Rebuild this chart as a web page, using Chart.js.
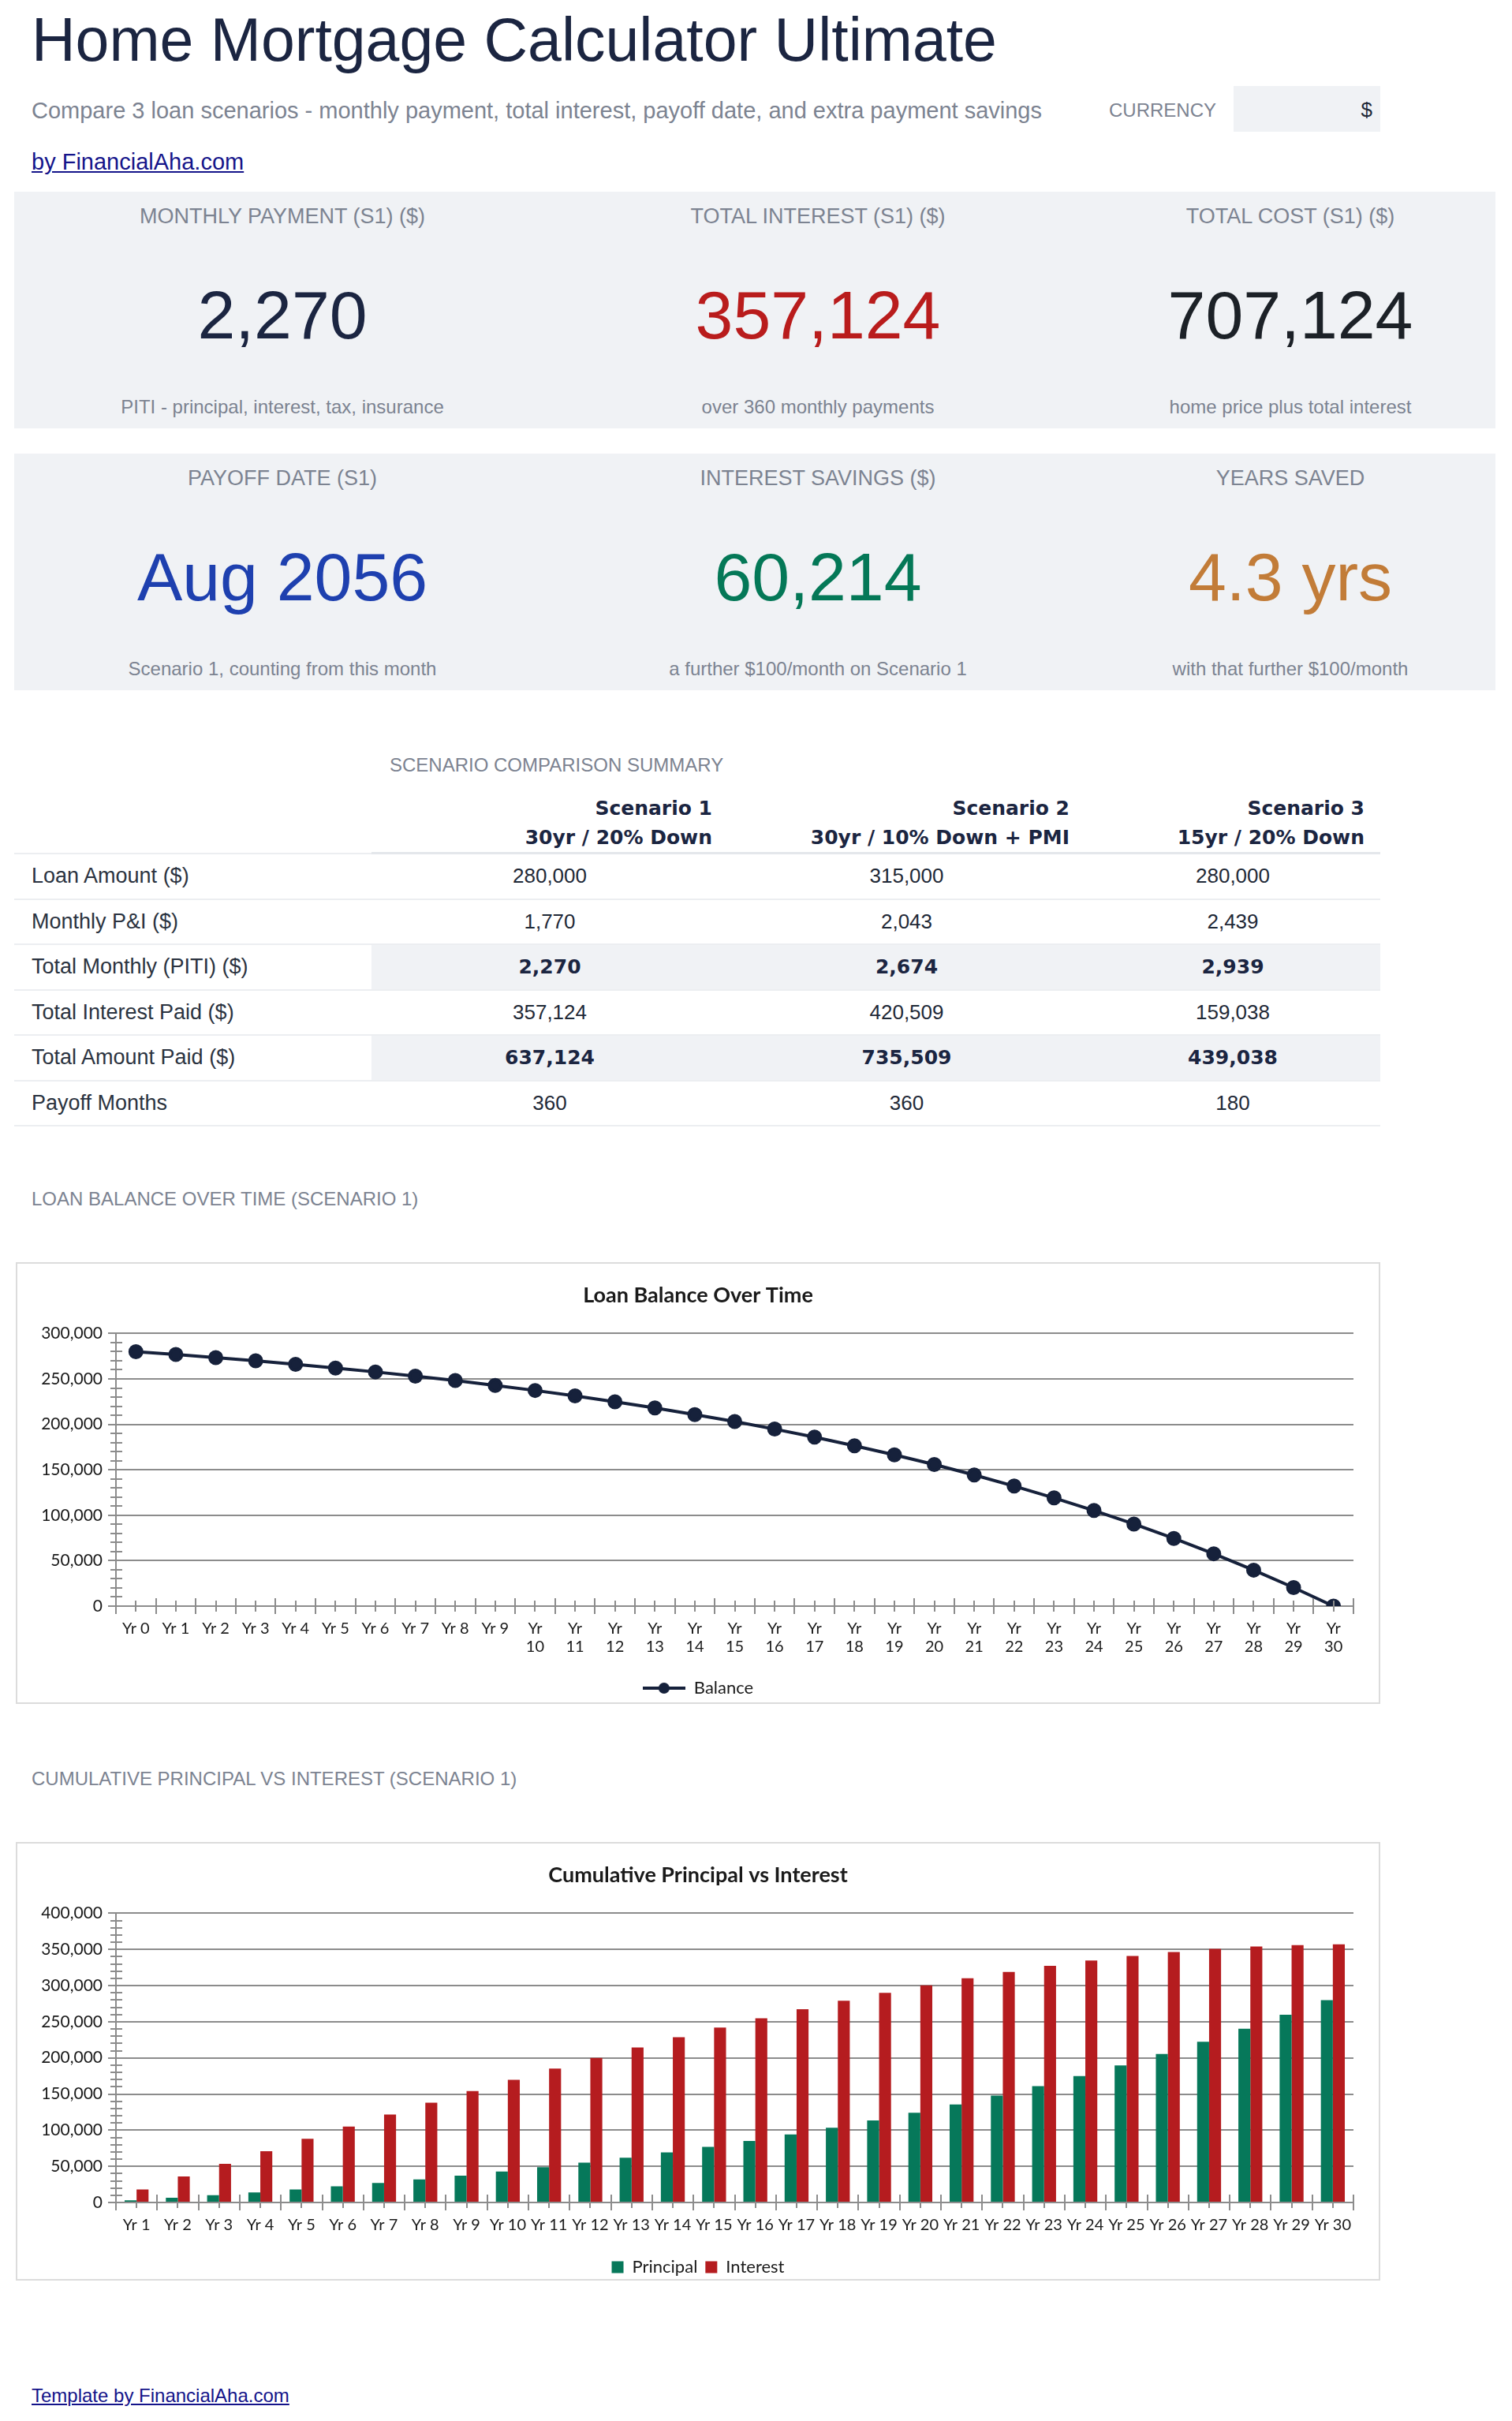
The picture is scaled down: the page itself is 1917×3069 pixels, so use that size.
<!DOCTYPE html>
<html>
<head>
<meta charset="utf-8">
<title>Home Mortgage Calculator Ultimate</title>
<script src="https://cdn.jsdelivr.net/npm/chart.js@4.4.1/dist/chart.umd.min.js"></script>
<style>
	body { margin: 0; width: 1917px; height: 3069px; position: relative; background: #fff; font-family: "Liberation Sans", Arial, sans-serif; }
	.abs { position: absolute; line-height: 1; white-space: nowrap; }
	.title { left: 40px; top: 12px; font-size: 77px; color: #1b2541; }
	.subtitle { left: 40px; top: 126px; font-size: 29px; color: #7c8391; }
	.cur-label { left: 1406px; top: 128px; font-size: 24px; color: #7c8391; }
	.cur-box { position: absolute; left: 1564px; top: 109px; width: 186px; height: 58px; background: #f0f2f5; }
	.cur-box span { position: absolute; right: 10px; top: 17px; font-size: 26px; line-height: 1; color: #1f2937; }
	a { color: #14148a; }
	.link { left: 40px; top: 191px; font-size: 29px; }
	.card { position: absolute; left: 18px; width: 1878px; height: 300px; background: #f0f2f5; display: grid; grid-template-columns: 680px 678px 1fr; }
	.cell { position: relative; }
	.cell div { position: absolute; left: 0; right: 0; text-align: center; line-height: 1; white-space: nowrap; }
	.cell .lab { top: 18px; font-size: 27px; color: #7c8391; }
	.cell .num { top: 113px; font-size: 86px; }
	.cell .sub { top: 261px; font-size: 24px; color: #7c8391; }
	.section { font-size: 24px; color: #7c8391; }
	table { position: absolute; left: 18px; top: 1006px; border-collapse: collapse; table-layout: fixed; width: 1732px; }
	th { font-family: "DejaVu Sans", sans-serif; font-weight: bold; font-size: 25px; line-height: 37px; color: #1b2541; text-align: right; padding: 0 20px 0 0; vertical-align: bottom; border-bottom: 3px solid #e4e7eb; }
	th.blank { border-bottom: 2px solid #eceef1; }
	td { height: 55.5px; font-size: 26px; color: #1f2937; text-align: center; padding: 0; border-bottom: 2px solid #eceef1; }
	td.rl { text-align: left; padding-left: 22px; font-size: 27px; color: #2b3340; }
	tr.hl td { background: #f0f2f5; font-family: "DejaVu Sans", sans-serif; font-weight: bold; font-size: 25px; color: #1b2541; }
	tr.hl td.rl { background: #fff; font-family: "Liberation Sans", Arial, sans-serif; font-weight: normal; font-size: 27px; color: #2b3340; }
	.chart-box { position: absolute; left: 20px; width: 1726px; border: 2px solid #dcdcdc; background: #fff; }
	.chart-box canvas { position: absolute; left: 0; top: 0; }
</style>
</head>
<body>

<div class="abs title">Home Mortgage Calculator Ultimate</div>
<div class="abs subtitle">Compare 3 loan scenarios - monthly payment, total interest, payoff date, and extra payment savings</div>
<div class="abs cur-label">CURRENCY</div>
<div class="cur-box"><span>$</span></div>
<div class="abs link"><a href="#">by FinancialAha.com</a></div>

<div class="card" style="top: 243px;">
	<div class="cell"><div class="lab">MONTHLY PAYMENT (S1) ($)</div><div class="num" style="color:#1b2541">2,270</div><div class="sub">PITI - principal, interest, tax, insurance</div></div>
	<div class="cell"><div class="lab">TOTAL INTEREST (S1) ($)</div><div class="num" style="color:#b91c1c">357,124</div><div class="sub">over 360 monthly payments</div></div>
	<div class="cell"><div class="lab">TOTAL COST (S1) ($)</div><div class="num" style="color:#1c2127">707,124</div><div class="sub">home price plus total interest</div></div>
</div>

<div class="card" style="top: 575px;">
	<div class="cell"><div class="lab">PAYOFF DATE (S1)</div><div class="num" style="color:#1e40af">Aug 2056</div><div class="sub">Scenario 1, counting from this month</div></div>
	<div class="cell"><div class="lab">INTEREST SAVINGS ($)</div><div class="num" style="color:#047857">60,214</div><div class="sub">a further $100/month on Scenario 1</div></div>
	<div class="cell"><div class="lab">YEARS SAVED</div><div class="num" style="color:#c27c38">4.3 yrs</div><div class="sub">with that further $100/month</div></div>
</div>

<div class="abs section" style="left: 494px; top: 958px;">SCENARIO COMPARISON SUMMARY</div>

<table>
	<colgroup><col style="width:453px"><col style="width:452px"><col style="width:453px"><col style="width:374px"></colgroup>
	<thead>
		<tr><th class="blank"></th><th>Scenario 1<br>30yr / 20% Down</th><th>Scenario 2<br>30yr / 10% Down + PMI</th><th>Scenario 3<br>15yr / 20% Down</th></tr>
	</thead>
	<tbody>
		<tr><td class="rl">Loan Amount ($)</td><td>280,000</td><td>315,000</td><td>280,000</td></tr>
		<tr><td class="rl">Monthly P&amp;I ($)</td><td>1,770</td><td>2,043</td><td>2,439</td></tr>
		<tr class="hl"><td class="rl">Total Monthly (PITI) ($)</td><td>2,270</td><td>2,674</td><td>2,939</td></tr>
		<tr><td class="rl">Total Interest Paid ($)</td><td>357,124</td><td>420,509</td><td>159,038</td></tr>
		<tr class="hl"><td class="rl">Total Amount Paid ($)</td><td>637,124</td><td>735,509</td><td>439,038</td></tr>
		<tr><td class="rl">Payoff Months</td><td>360</td><td>360</td><td>180</td></tr>
	</tbody>
</table>

<div class="abs section" style="left: 40px; top: 1508px;">LOAN BALANCE OVER TIME (SCENARIO 1)</div>
<div class="chart-box" style="top: 1600px; height: 556px;"><canvas id="balanceChart"></canvas></div>

<div class="abs section" style="left: 40px; top: 2243px;">CUMULATIVE PRINCIPAL VS INTEREST (SCENARIO 1)</div>
<div class="chart-box" style="top: 2335px; height: 552px;"><canvas id="cumChart"></canvas></div>

<div class="abs link" style="top: 3025px; font-size: 24px;"><a href="#">Template by FinancialAha.com</a></div>

<script>
// year labels
let balanceYears = ["Yr 0", "Yr 1", "Yr 2", "Yr 3", "Yr 4", "Yr 5", "Yr 6", "Yr 7", "Yr 8", "Yr 9", "Yr 10",
	"Yr 11", "Yr 12", "Yr 13", "Yr 14", "Yr 15", "Yr 16", "Yr 17", "Yr 18", "Yr 19", "Yr 20",
	"Yr 21", "Yr 22", "Yr 23", "Yr 24", "Yr 25", "Yr 26", "Yr 27", "Yr 28", "Yr 29", "Yr 30"];
let cumYears = balanceYears.slice(1);

// remaining balance, scenario 1
let balance = [280000, 276900, 273500, 269900, 266100, 262000, 257700, 253100, 248200, 242900, 237300,
	231300, 224900, 218100, 210800, 203100, 194800, 186000, 176500, 166500, 155800,
	144300, 132100, 119100, 105200, 90300, 74500, 57600, 39600, 20400, 0];

// cumulative principal / interest by year end
let principalPaid = [3100, 6500, 10100, 13900, 18000, 22300, 26900, 31800, 37100, 42700,
	48700, 55100, 61900, 69200, 76900, 85200, 94000, 103500, 113500, 124200,
	135700, 147900, 160900, 174800, 189700, 205500, 222400, 240400, 259600, 280000];
let interestPaid = [18100, 36000, 53600, 71000, 88200, 105100, 121700, 138100, 154100, 169800,
	185100, 200000, 214500, 228500, 242000, 254900, 267300, 279000, 290000, 300300,
	310100, 319000, 327200, 334600, 341000, 346400, 350800, 354000, 356100, 357124];

let navy = "#16213b";
let gridGray = "#8c8c8c";
let textDark = "#1a1a1a";

Chart.defaults.font.family = "Lato, 'Open Sans', sans-serif";
Chart.defaults.color = textDark;

// draws the small cross ticks on both axes, like the spreadsheet chart
const crossTicks = {
	id: "crossTicks",
	afterDraw(chart, args, opts) {
		const { ctx, scales: { x, y } } = chart;
		ctx.save();
		ctx.strokeStyle = gridGray;
		ctx.lineWidth = 2;
		ctx.beginPath();
		for (let v = y.min; v <= y.max; v += opts.yMinor) {
			let py = Math.round(y.getPixelForValue(v));
			let major = v % opts.yMajor === 0;
			ctx.moveTo(x.left - (major ? 0 : 7), py);
			ctx.lineTo(x.left + 8, py);
		}
		let n = chart.data.labels.length;
		let w = (x.right - x.left) / n;
		for (let i = 0; i <= n; i++) {
			let px = Math.round(x.left + i * w);
			ctx.moveTo(px, y.bottom - 10);
			ctx.lineTo(px, y.bottom);
		}
		for (let i = 0; i < n; i++) {
			let px = Math.round(x.getPixelForTick(i));
			ctx.moveTo(px, y.bottom - opts.centerUp);
			ctx.lineTo(px, y.bottom + 7);
		}
		ctx.stroke();
		ctx.restore();
	},
};

// nudges the bottom legend a few px lower, closer to the frame
const legendNudge = {
	id: "legendNudge",
	afterLayout(chart, args, opts) {
		chart.legend.top += opts.dy;
		chart.legend.bottom += opts.dy;
	},
};

// legend marker: line with a dot in the middle
const lineMarker = document.createElement("canvas");
lineMarker.width = 54;
lineMarker.height = 16;
{
	let m = lineMarker.getContext("2d");
	m.strokeStyle = navy;
	m.lineWidth = 4;
	m.beginPath();
	m.moveTo(0, 8);
	m.lineTo(54, 8);
	m.stroke();
	m.fillStyle = navy;
	m.beginPath();
	m.arc(27, 8, 7, 0, Math.PI * 2);
	m.fill();
}

function yScale(max) {
	return {
		min: 0,
		max: max,
		afterFit: (scale) => { scale.width = 125; },
		ticks: {
			stepSize: 50000,
			padding: 7,
			font: { size: 21 },
			color: textDark,
			callback: (v) => v.toLocaleString("en-US"),
		},
		grid: { color: gridGray, lineWidth: 2, tickLength: 10 },
		border: { display: true, color: gridGray, width: 2 },
	};
}

// empty axis on the right, only to keep the plot off the right edge
let rightSpacer = {
	position: "right",
	display: true,
	afterFit: (scale) => { scale.width = 32; },
	ticks: { display: false },
	grid: { display: false, drawTicks: false },
	border: { display: false },
};

function xScale(height, wrap) {
	return {
		offset: true,
		afterFit: (scale) => { scale.height = height; },
		ticks: {
			autoSkip: false,
			maxRotation: 0,
			minRotation: 0,
			padding: 7,
			font: { size: 20, lineHeight: 1.15 },
			color: textDark,
			callback: function (value) {
				let label = this.getLabelForValue(value);
				return wrap && label.length > 4 ? label.split(" ") : label;
			},
		},
		grid: { offset: true, drawOnChartArea: false, drawTicks: true, tickLength: 10, color: gridGray, lineWidth: 2 },
		border: { display: true, color: gridGray, width: 2 },
	};
}

function titleOpts(text) {
	return {
		display: true,
		text: text,
		color: textDark,
		font: { size: 27, weight: "bold" },
		padding: { top: 24, bottom: 32 },
	};
}

let balanceCanvas = document.getElementById("balanceChart");
balanceCanvas.width = 1726;
balanceCanvas.height = 556;

new Chart(balanceCanvas, {
	type: "line",
	data: {
		labels: balanceYears,
		datasets: [{
			label: "Balance",
			data: balance,
			borderColor: navy,
			backgroundColor: navy,
			borderWidth: 4,
			pointRadius: 7.5,
			pointBackgroundColor: navy,
			pointBorderColor: navy,
			lineTension: 0,
			fill: false,
		}],
	},
	options: {
		responsive: false,
		animation: false,
		layout: { padding: 0 },
		scales: { x: xScale(80, true), y: yScale(300000), r: rightSpacer },
		plugins: {
			title: titleOpts("Loan Balance Over Time"),
			legend: {
				position: "bottom",
				labels: {
					usePointStyle: true,
					pointStyleWidth: 54,
					font: { size: 22 },
					color: textDark,
					padding: 10,
					generateLabels: (chart) => chart.data.datasets.map((ds, i) => ({
						text: ds.label,
						pointStyle: lineMarker,
						datasetIndex: i,
						fontColor: textDark,
						lineWidth: 0,
					})),
				},
			},
			tooltip: { enabled: false },
			crossTicks: { yMinor: 10000, yMajor: 50000, centerUp: 7 },
			legendNudge: { dy: 3 },
		},
	},
	plugins: [crossTicks, legendNudge],
});

let cumCanvas = document.getElementById("cumChart");
cumCanvas.width = 1726;
cumCanvas.height = 552;

new Chart(cumCanvas, {
	type: "bar",
	data: {
		labels: cumYears,
		datasets: [
			{ label: "Principal", data: principalPaid, backgroundColor: "#06785a", categoryPercentage: 0.58, barPercentage: 1.0 },
			{ label: "Interest", data: interestPaid, backgroundColor: "#b51c1f", categoryPercentage: 0.58, barPercentage: 1.0 },
		],
	},
	options: {
		responsive: false,
		animation: false,
		layout: { padding: 0 },
		scales: { x: xScale(55, false), y: yScale(400000), r: rightSpacer },
		plugins: {
			title: titleOpts("Cumulative Principal vs Interest"),
			legend: {
				position: "bottom",
				labels: { boxWidth: 15, boxHeight: 15, font: { size: 22 }, color: textDark, padding: 10 },
			},
			tooltip: { enabled: false },
			crossTicks: { yMinor: 10000, yMajor: 50000, centerUp: 0 },
			legendNudge: { dy: 6 },
		},
	},
	plugins: [crossTicks, legendNudge],
});
</script>
</body>
</html>
